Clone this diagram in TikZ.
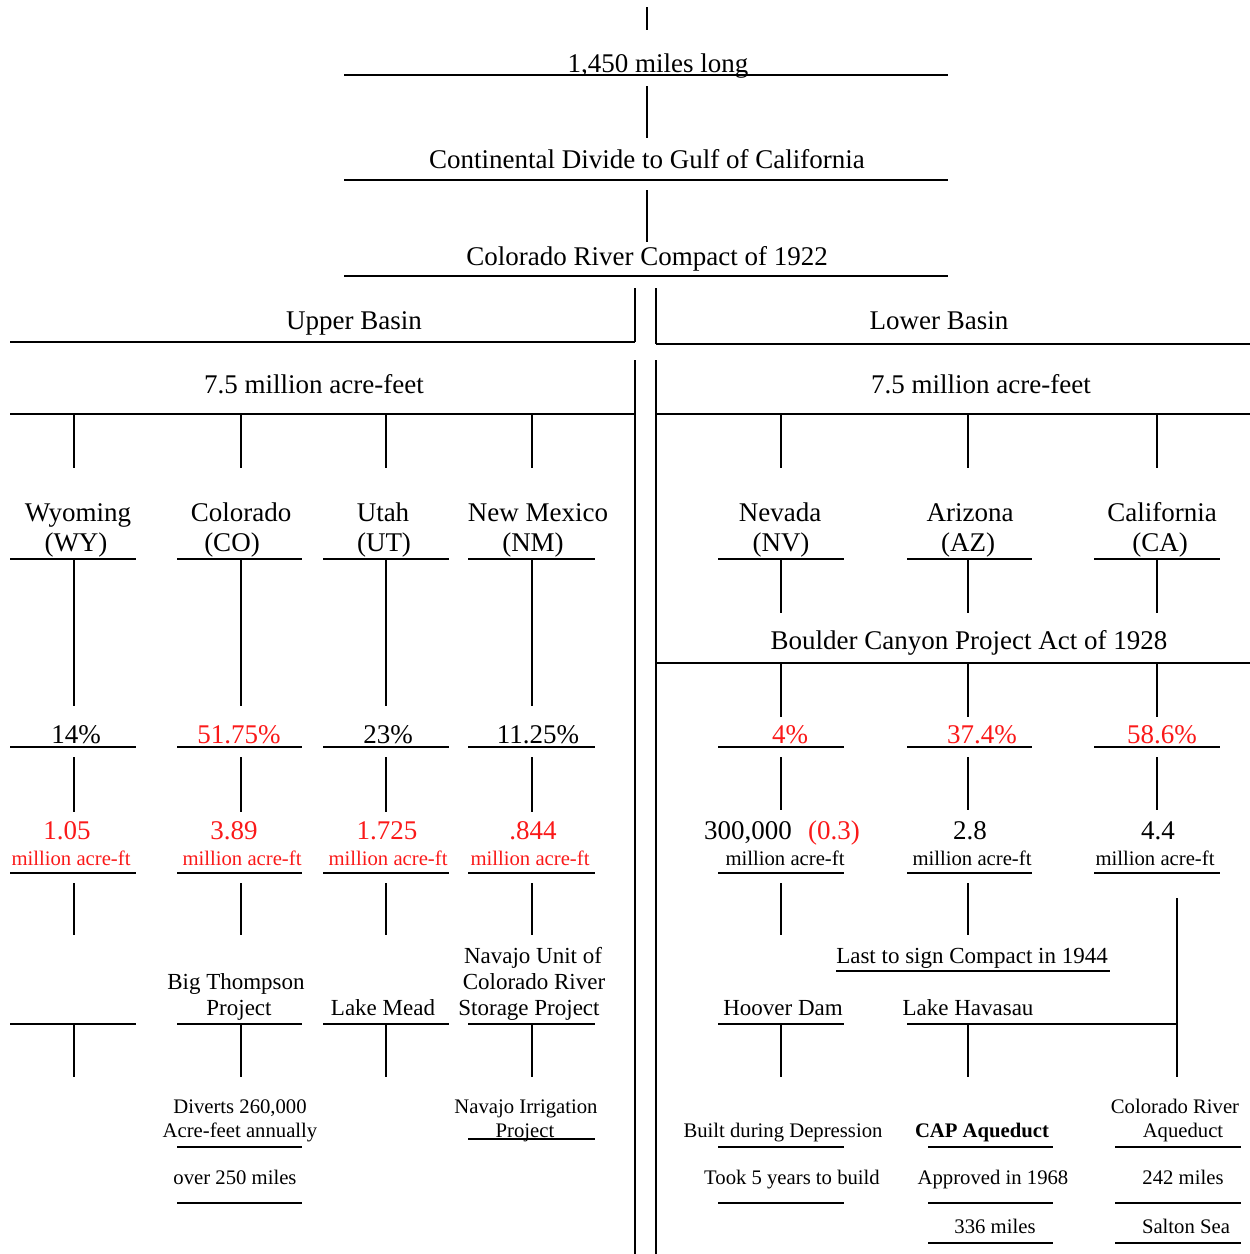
\documentclass[tikz,border=0pt]{standalone}
\usepackage{fontspec}
\setmainfont{Liberation Serif}
\definecolor{redt}{RGB}{250,25,25}
\newcommand\myH[3]{\draw[rule] (#1,#3) -- (#2,#3);}
\newcommand\myV[3]{\draw[rule] (#1,#2) -- (#1,#3);}
\begin{document}
\begin{tikzpicture}[x=1pt,y=-1pt,
  big/.style={font=\fontsize{27}{30}\selectfont, anchor=base, inner sep=0pt},
  med/.style={font=\fontsize{23}{26}\selectfont, anchor=base, inner sep=0pt},
  sml/.style={font=\fontsize{20.7}{23}\selectfont, anchor=base, inner sep=0pt},
  rule/.style={line width=1.4pt, line cap=butt},
  rtxt/.style={text=redt}]
\useasboundingbox (0,0) rectangle (1250,1254);
% ---------- top chain ----------
\myV{647}{7}{30}
\node[big] (len) at (658,72) {1,450 miles long};
\myH{344}{948}{75}
\myV{647}{86}{138}
\node[big] (cont) at (647,168) {Continental Divide to Gulf of California};
\myH{344}{948}{180}
\myV{647}{190}{242}
\node[big] (compact) at (647,265) {Colorado River Compact of 1922};
\myH{344}{948}{276}
% ---------- basins ----------
\myV{635}{288}{342}
\myH{10}{635}{342}
\node[big] (upper) at (354,329) {Upper Basin};
\myV{656}{288}{344}
\myH{656}{1250}{344}
\node[big] (lower) at (939,329) {Lower Basin};
\myV{635}{360}{1254}
\myV{656}{360}{1254}
\myH{10}{635}{414}
\myH{656}{1250}{414}
\node[big] (uaf) at (314,393) {7.5 million acre-feet};
\node[big] (laf) at (981,393) {7.5 million acre-feet};
% ---------- upper columns ----------
\foreach \x/\l/\r in {74/10/136, 241/177/302, 386/323/449, 532/468/595}{
  \myV{\x}{414}{468}
  \myH{\l}{\r}{559}
  \myV{\x}{559}{706}
  \myH{\l}{\r}{747}
  \myV{\x}{757}{812}
  \myH{\l}{\r}{873}
  \myV{\x}{883}{935}
  \myH{\l}{\r}{1024}
  \myV{\x}{1024}{1077}
}
\node[big] (wy1) at (78,521) {Wyoming};
\node[big] (wy2) at (76,551) {(WY)};
\node[big] (co1) at (241,521) {Colorado};
\node[big] (co2) at (232,551) {(CO)};
\node[big] (ut1) at (383,521) {Utah};
\node[big] (ut2) at (384,551) {(UT)};
\node[big] (nm1) at (538,521) {New Mexico};
\node[big] (nm2) at (533,551) {(NM)};
\node[big] (wyp) at (76,743) {14\%};
\node[big,rtxt] (cop) at (239,743) {51.75\%};
\node[big] (utp) at (388,743) {23\%};
\node[big] (nmp) at (538,743) {11.25\%};
\node[big,rtxt] (wyv) at (67,839) {1.05};
\node[big,rtxt] (cov) at (234,839) {3.89};
\node[big,rtxt] (utv) at (387,839) {1.725};
\node[big,rtxt] (nmv) at (533,839) {.844};
\node[sml,rtxt] (wyu) at (71,865) {million acre-ft};
\node[sml,rtxt] (cou) at (242,865) {million acre-ft};
\node[sml,rtxt] (utu) at (388,865) {million acre-ft};
\node[sml,rtxt] (nmu) at (530,865) {million acre-ft};
\node[med] (bt1) at (236,989) {Big Thompson};
\node[med] (bt2) at (239,1015) {Project};
\node[med] (lm) at (383,1015) {Lake Mead};
\node[med] (nu1) at (533,963) {Navajo Unit of};
\node[med] (nu2) at (534,989) {Colorado River};
\node[med] (nu3) at (529,1015) {Storage Project};
\node[sml] (dv1) at (240,1113) {Diverts 260,000};
\node[sml] (dv2) at (240,1137) {Acre-feet annually};
\myH{177}{302}{1147}
\node[sml] (ov) at (235,1184) {over 250 miles};
\myH{177}{302}{1203}
\node[sml] (ni1) at (526,1113) {Navajo Irrigation};
\node[sml] (ni2) at (525,1137) {Project};
\myH{468}{595}{1139}
% ---------- lower columns ----------
\foreach \x/\l/\r in {781/718/844, 968/907/1032, 1157/1094/1220}{
  \myV{\x}{414}{468}
  \myH{\l}{\r}{559}
  \myV{\x}{559}{613}
  \myV{\x}{663}{717}
  \myH{\l}{\r}{747}
  \myV{\x}{757}{810}
  \myH{\l}{\r}{873}
}
\myH{656}{1250}{663}
\node[big] (nv1) at (780,521) {Nevada};
\node[big] (nv2) at (781,551) {(NV)};
\node[big] (az1) at (970,521) {Arizona};
\node[big] (az2) at (968,551) {(AZ)};
\node[big] (ca1) at (1162,521) {California};
\node[big] (ca2) at (1160,551) {(CA)};
\node[big] (bc) at (969,649) {Boulder Canyon Project Act of 1928};
\node[big,rtxt] (nvp) at (790,743) {4\%};
\node[big,rtxt] (azp) at (982,743) {37.4\%};
\node[big,rtxt] (cap) at (1162,743) {58.6\%};
\node[big] (nvv) at (782,839) {300,000\hspace{0.6em}\textcolor{redt}{(0.3)}};
\node[big] (azv) at (970,839) {2.8};
\node[big] (cav) at (1158,839) {4.4};
\node[sml] (nvu) at (785,865) {million acre-ft};
\node[sml] (azu) at (972,865) {million acre-ft};
\node[sml] (cau) at (1155,865) {million acre-ft};
\myV{781}{883}{935}
\myV{968}{883}{935}
\myV{1177}{898}{1077}
\node[med] (last) at (972,963) {Last to sign Compact in 1944};
\myH{836}{1110}{971}
\node[med] (hd) at (783,1015) {Hoover Dam};
\myH{718}{844}{1024}
\myV{781}{1024}{1077}
\node[med] (lh) at (968,1015) {Lake Havasau};
\myH{907}{1177}{1024}
\myV{968}{1024}{1077}
\node[sml] (bd) at (783,1137) {Built during Depression};
\myH{718}{844}{1147}
\node[sml] (t5) at (792,1184) {Took 5 years to build};
\myH{718}{844}{1203}
\node[sml,font=\fontsize{20.7}{23}\selectfont\bfseries] (capa) at (982,1137) {CAP Aqueduct};
\myH{928}{1053}{1147}
\node[sml] (ap) at (993,1184) {Approved in 1968};
\myH{928}{1053}{1203}
\node[sml] (m336) at (995,1233) {336 miles};
\myH{928}{1053}{1243}
\node[sml] (cra1) at (1175,1113) {Colorado River};
\node[sml] (cra2) at (1183,1137) {Aqueduct};
\myH{1115}{1241}{1147}
\node[sml] (m242) at (1183,1184) {242 miles};
\myH{1115}{1241}{1203}
\node[sml] (ss) at (1186,1233) {Salton Sea};
\myH{1115}{1241}{1243}
\end{tikzpicture}
\end{document}
